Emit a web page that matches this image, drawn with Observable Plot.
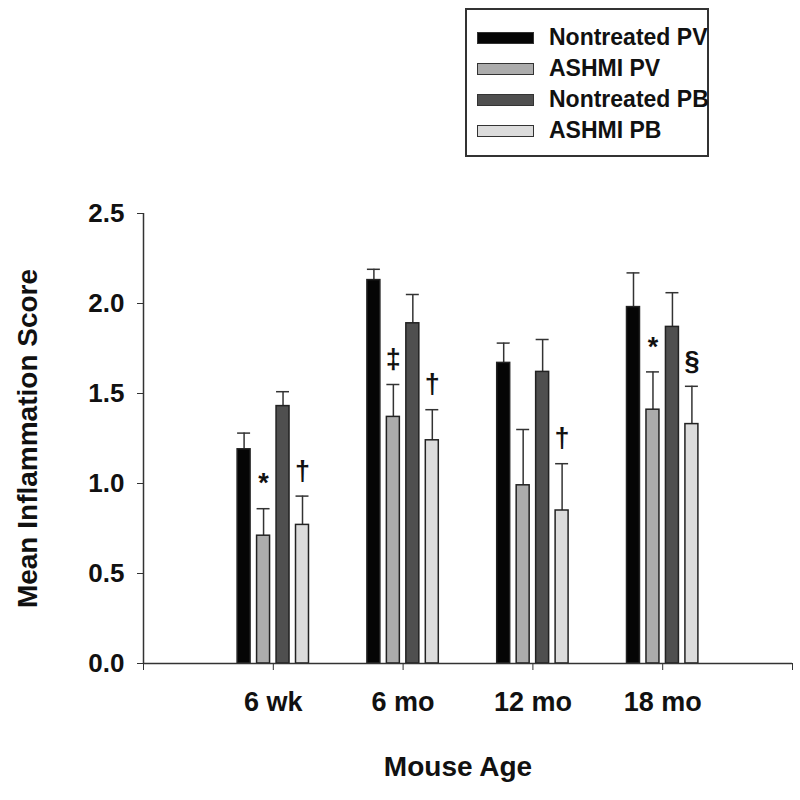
<!DOCTYPE html>
<html>
<head>
<meta charset="utf-8">
<script src="https://cdn.jsdelivr.net/npm/d3@7"></script>
<script src="https://cdn.jsdelivr.net/npm/@observablehq/plot@0.6"></script>
<style>
  html, body { margin: 0; padding: 0; background: #fff; }
  #wrap { position: relative; width: 800px; height: 800px; font-family: "Liberation Sans", Arial, sans-serif; }
  #wrap svg text { font-weight: bold; }
  #legend { position: absolute; left: 465px; top: 8px; width: 240px; height: 145px; border: 2px solid #333; background: #fff; }
  .item { position: absolute; left: 10px; height: 31px; display: flex; align-items: center; }
  .sw { width: 55px; height: 10px; border: 1.5px solid #333; margin-right: 15px; }
  .lab { font-size: 23px; font-weight: bold; color: #111; white-space: nowrap; }
</style>
</head>
<body>
<div id="wrap"></div>
<script>
// ---- data ----
const ages = ["6 wk", "6 mo", "12 mo", "18 mo"];
const series = ["Nontreated PV", "ASHMI PV", "Nontreated PB", "ASHMI PB"];
const colors = ["#050505", "#acacac", "#4f4f4f", "#dcdcdc"];
const nontreatedPV = [1.19, 2.13, 1.67, 1.98];
const ashmiPV      = [0.71, 1.37, 0.99, 1.41];
const nontreatedPB = [1.43, 1.89, 1.62, 1.87];
const ashmiPB      = [0.77, 1.24, 0.85, 1.33];
const errNontreatedPV = [0.09, 0.06, 0.11, 0.19];
const errAshmiPV      = [0.15, 0.18, 0.31, 0.21];
const errNontreatedPB = [0.08, 0.16, 0.18, 0.19];
const errAshmiPB      = [0.16, 0.17, 0.26, 0.21];
const sigAge    = ["6 wk", "6 wk", "6 mo", "6 mo", "12 mo", "18 mo", "18 mo"];
const sigSeries = ["ASHMI PV", "ASHMI PB", "ASHMI PV", "ASHMI PB", "ASHMI PB", "ASHMI PV", "ASHMI PB"];
const sigSymbol = ["*", "†", "‡", "†", "†", "*", "§"];
const yTicks = [0, 0.5, 1.0, 1.5, 2.0, 2.5];
const yLabel = "Mean Inflammation Score";
const xLabel = "Mouse Age";

// ---- build table ----
const means = [nontreatedPV, ashmiPV, nontreatedPB, ashmiPB];
const errs = [errNontreatedPV, errAshmiPV, errNontreatedPB, errAshmiPB];
const step = 0.15, halfW = 0.05;
const rows = [];
series.forEach((s, si) => {
  ages.forEach((a, ai) => {
    const c = ai + 1 + (si - 1.5) * step;
    rows.push({series: s, age: a, c, x1: c - halfW, x2: c + halfW, mean: means[si][ai], top: means[si][ai] + errs[si][ai]});
  });
});
const sig = sigSymbol.map((sym, i) => {
  const r = rows.find(d => d.age === sigAge[i] && d.series === sigSeries[i]);
  return {sym, c: r.c, top: r.top};
});

const chart = Plot.plot({
  width: 800, height: 800,
  marginLeft: 143, marginRight: 8, marginTop: 213, marginBottom: 137,
  style: {fontFamily: "'Liberation Sans', Arial, sans-serif", color: "#111"},
  x: {type: "linear", domain: [0, 5], axis: null},
  y: {domain: [0, 2.5], axis: null},
  color: {domain: series, range: colors},
  marks: [
    Plot.ruleX(rows, {x: "c", y1: "mean", y2: "top", stroke: "#333", strokeWidth: 1.5}),
    Plot.ruleY(rows, {y: "top", x1: "x1", x2: "x2", stroke: "#333", strokeWidth: 1.5}),
    Plot.rectY(rows, {x1: "x1", x2: "x2", y1: 0, y2: "mean", fill: "series", stroke: "#222", strokeWidth: 1.5}),
    Plot.axisY({ticks: yTicks, tickFormat: d3.format(".1f"), tickSize: 6, tickPadding: 13, fontSize: 26, fontWeight: "bold", label: null, stroke: "#333"}),
    Plot.axisX({ticks: [0, 1, 2, 3, 4, 5], tickFormat: i => ages[i - 1] ?? "", tickSize: 7, tickPadding: 21, fontSize: 27, fontWeight: "bold", label: null, stroke: "#333"}),
    Plot.ruleX([0], {y1: 0, y2: 2.5, stroke: "#333", strokeWidth: 1.5}),
    Plot.ruleY([0], {x1: 0, x2: 5, stroke: "#333", strokeWidth: 1.5}),
    Plot.text(sig, {x: "c", y: "top", text: "sym", dy: -25, fontSize: 27, fontWeight: "bold", fill: "#111"}),
    Plot.text([yLabel], {frameAnchor: "left", textAnchor: "middle", rotate: -90, dx: -115, fontSize: 28, fontWeight: "bold", fill: "#111"}),
    Plot.text([xLabel], {frameAnchor: "bottom", dx: -10, dy: 112, fontSize: 28, fontWeight: "bold", fill: "#111"})
  ]
});

const wrap = document.getElementById("wrap");
wrap.appendChild(chart);
const legend = document.createElement("div");
legend.id = "legend";
series.forEach((s, i) => {
  const it = document.createElement("div");
  it.className = "item";
  it.style.top = (12 + i * 31) + "px";
  const sw = document.createElement("div");
  sw.className = "sw";
  sw.style.background = colors[i];
  const lb = document.createElement("span");
  lb.className = "lab";
  lb.textContent = s;
  it.appendChild(sw); it.appendChild(lb);
  legend.appendChild(it);
});
wrap.appendChild(legend);
</script>
</body>
</html>
